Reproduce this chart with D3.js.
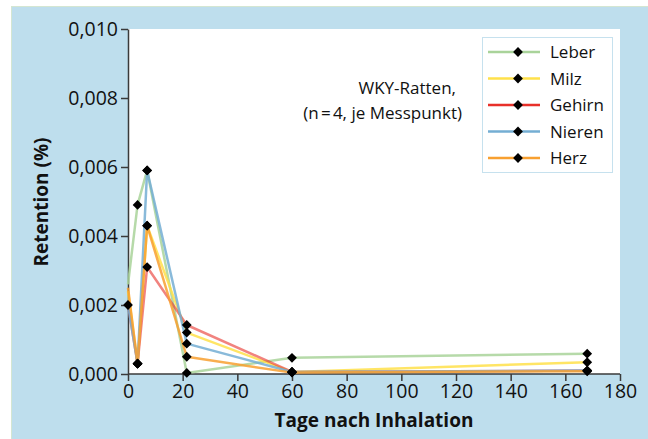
<!DOCTYPE html>
<html>
<head>
<meta charset="utf-8">
<script src="https://cdn.jsdelivr.net/npm/d3@7"></script>
<style>
  body { margin: 0; background: #fff; }
  svg { display: block; font-family: "Open Sans", "Noto Sans", sans-serif; }
</style>
</head>
<body>
<div id="chart"></div>
<script>
// data
const days = [0, 3.5, 7, 21.5, 60, 168];
const leber  = [0.0026, 0.0049, 0.0059, 0.00003, 0.00047, 0.00059];
const milz   = [0.0024, 0.0003, 0.0043, 0.0012, 0.00006, 0.00034];
const gehirn = [0.0020, 0.0003, 0.0031, 0.00142, 0.00006, 0.0001];
const nieren = [0.0020, 0.0003, 0.0059, 0.00088, 0.00006, 0.0001];
const herz   = [0.0025, 0.0003, 0.0043, 0.0005, 0.00004, 0.00008];
const seriesNames = ["Leber", "Milz", "Gehirn", "Nieren", "Herz"];
const seriesColors = ["#a9d39a", "#ffe14a", "#e8302a", "#74aed3", "#f8a030"];
const xTicks = [0, 20, 40, 60, 80, 100, 120, 140, 160, 180];
const yTicks = [0, 0.002, 0.004, 0.006, 0.008, 0.010];

const series = [leber, milz, gehirn, nieren, herz].map((vals, i) => ({
  name: seriesNames[i], color: seriesColors[i], values: vals
}));

const W = 648, H = 439;
const margin = {top: 29, right: 28, bottom: 65, left: 128};

const svg = d3.select("#chart").append("svg")
  .attr("width", W).attr("height", H);

// blue panel
svg.append("rect")
  .attr("x", 11.5).attr("y", 6.5)
  .attr("width", W).attr("height", H)
  .style("fill", "#bedeed")
  .style("stroke", "#d4e6d2");

const x = d3.scaleLinear().domain([0, 180]).range([margin.left, W - margin.right]);
const y = d3.scaleLinear().domain([0, 0.010]).range([H - margin.bottom, margin.top]);

// white plot area
svg.append("rect")
  .attr("x", x(0)).attr("y", y(0.010))
  .attr("width", x(180) - x(0)).attr("height", y(0) - y(0.010))
  .style("fill", "#fff");

const fmt = d => d3.format(".3f")(d).replace(".", ",");

const xAxis = svg.append("g")
  .attr("transform", "translate(0," + y(0) + ")")
  .call(d3.axisBottom(x).tickValues(xTicks).tickSize(7).tickPadding(3).tickSizeOuter(0));
const yAxis = svg.append("g")
  .attr("transform", "translate(" + x(0) + ",0)")
  .call(d3.axisLeft(y).tickValues(yTicks).tickFormat(fmt).tickSize(7).tickPadding(3).tickSizeOuter(0));

[xAxis, yAxis].forEach(g => {
  g.selectAll("path, line").style("stroke", "#3a3a3a").style("stroke-width", 1.5);
  g.selectAll("text").style("font-size", "19.5px").style("fill", "#111")
    .style("font-family", "'Open Sans', sans-serif");
});
xAxis.select(".domain").attr("d", "M" + x(0) + ",0H" + x(180));

// lines
const line = d3.line()
  .x((d, i) => x(days[i]))
  .y(d => y(d));

svg.selectAll(".series")
  .data(series)
  .enter().append("path")
  .attr("class", "series")
  .attr("d", d => line(d.values))
  .style("fill", "none")
  .style("stroke", d => d.color)
  .style("stroke-width", 2.5)
  .style("stroke-opacity", d => d.name === "Gehirn" ? 0.6 : 0.85)
  .style("stroke-linejoin", "round");

// markers (start value only marked once, at 0,002)
const diamond = d3.symbol().type(d3.symbolSquare).size(48);
series.forEach(s => {
  svg.selectAll(null)
    .data(s.values.map((v, i) => ({v: v, i: i})).filter(p => p.i > 0 || s.name === "Gehirn"))
    .enter().append("path")
    .attr("d", diamond)
    .attr("transform", p => "translate(" + x(days[p.i]) + "," + y(p.v) + ") rotate(45)")
    .style("fill", "#000");
});

// axis titles
svg.append("text")
  .attr("x", x(90)).attr("y", 427)
  .attr("text-anchor", "middle")
  .style("font-size", "19px").style("font-weight", "bold").style("fill", "#111")
  .text("Tage nach Inhalation");

svg.append("text")
  .attr("transform", "translate(48,202) rotate(-90)")
  .attr("text-anchor", "middle")
  .style("font-size", "19px").style("font-weight", "bold").style("fill", "#111")
  .text("Retention (%)");

// annotation
svg.append("text")
  .attr("x", 456).attr("y", 94)
  .attr("text-anchor", "end")
  .style("font-size", "17px").style("fill", "#111")
  .text("WKY-Ratten,");
svg.append("text")
  .attr("x", 462).attr("y", 119)
  .attr("text-anchor", "end")
  .style("font-size", "17px").style("fill", "#111")
  .text("(n\u202F=\u202F4, je Messpunkt)");

// legend
const legend = svg.append("g");
legend.append("rect")
  .attr("x", 482.5).attr("y", 37.5)
  .attr("width", 130).attr("height", 135)
  .style("fill", "#fff")
  .style("stroke", "#c6e1ee");

series.forEach((s, i) => {
  const ly = 52 + i * 26.5;
  legend.append("line")
    .attr("x1", 488).attr("x2", 540)
    .attr("y1", ly).attr("y2", ly)
    .style("stroke", s.color).style("stroke-width", 2.5);
  legend.append("path")
    .attr("d", diamond)
    .attr("transform", "translate(518," + ly + ") rotate(45)")
    .style("fill", "#000");
  legend.append("text")
    .attr("x", 550).attr("y", ly + 6)
    .style("font-size", "17px").style("fill", "#111")
    .text(s.name);
});
</script>
</body>
</html>
